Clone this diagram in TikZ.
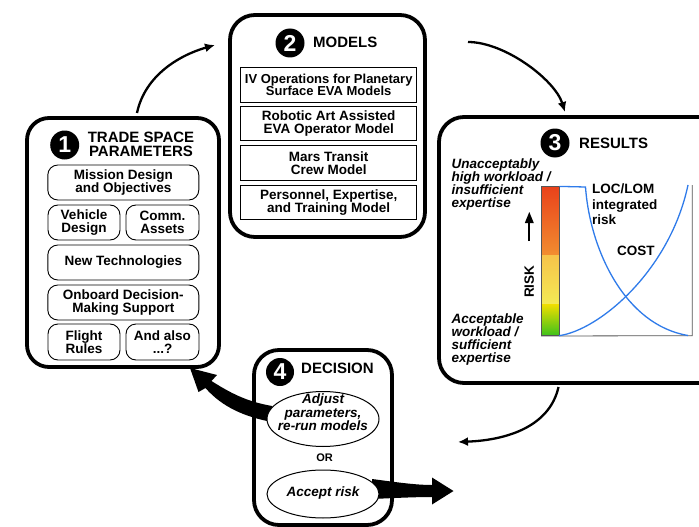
\documentclass[tikz,border=0pt]{standalone}
\usepackage{fontspec}
\setmainfont{Liberation Sans}
\usetikzlibrary{arrows.meta,shapes.geometric}
\definecolor{curveblue}{HTML}{2F7BEA}
\definecolor{axisgray}{HTML}{555555}
\begin{document}
\begin{tikzpicture}[x=1pt,y=-1pt,
  panel/.style={draw, line width=3.8pt, rounded corners=22pt, fill=white, inner sep=0},
  badge/.style={circle, fill=black, text=white, minimum size=29pt, inner sep=0,
    font=\fontsize{23}{23}\selectfont\bfseries},
  head/.style={inner sep=0, font=\fontsize{15}{14.6}\selectfont\bfseries, align=center},
  item/.style={draw, line width=0.9pt, rounded corners=10pt, inner sep=0,
    minimum height=35pt, align=center, font=\fontsize{13.5}{12.8}\selectfont\bfseries},
  modelbox/.style={draw, line width=1.2pt, inner sep=0, minimum width=176pt,
    minimum height=34.5pt, align=center, font=\fontsize{13.5}{13.5}\selectfont\bfseries},
  note/.style={inner sep=0, align=left, font=\fontsize{13.5}{13}\selectfont\bfseries\itshape},
  plain/.style={inner sep=0, align=left, font=\fontsize{13.5}{15.5}\selectfont\bfseries},
  choice/.style={draw, ellipse, line width=1pt, fill=white, inner sep=0},
  choicetext/.style={inner sep=0, align=center, font=\fontsize{13.5}{13.5}\selectfont\bfseries\itshape},
  flow/.style={line width=2.3pt, -{Latex[length=10pt,width=9pt]}},
  axisline/.style={line width=2pt},
  bigarrow/.style={fill=black, draw=none}
]
\useasboundingbox (0,0) rectangle (699,527);
\clip (0,0) rectangle (699,527);

% ---------- 1: trade space parameters ----------
\node[panel, minimum width=192pt, minimum height=249pt] (p1) at (123,242.5) {};
\node[badge] (b1) at (64.7,145) {1};
\node[head, anchor=north] (h1) at (141,131.7) {TRADE SPACE\\PARAMETERS};
\node[item, minimum width=151pt] (mission) at (123.3,182.5) {Mission Design\\and Objectives};
\node[item, minimum width=72pt] (vehicle) at (84,222.5) {Vehicle\\Design};
\node[item, minimum width=73pt] (comm) at (162.5,222.5) {Comm.\\Assets};
\node[item, minimum width=151pt] (newtech) at (123.3,262.5) {New Technologies};
\node[item, minimum width=151pt] (onboard) at (123.3,302.5) {Onboard Decision-\\Making Support};
\node[item, minimum width=72pt, minimum height=36pt] (flight) at (84,342) {Flight\\Rules};
\node[item, minimum width=73pt, minimum height=36pt] (also) at (162.5,342) {And also\\...?};

% ---------- 2: models ----------
\node[panel, rounded corners=25pt, minimum width=195pt, minimum height=222pt] (p2) at (327.5,126) {};
\node[badge] (b2) at (290,43) {2};
\node[head, anchor=base west] (h2) at (313,48) {MODELS};
\node[modelbox, font=\fontsize{13}{12.7}\selectfont\bfseries] (m1) at (328.7,85) {IV Operations for Planetary\\Surface EVA Models};
\node[modelbox] (m2) at (328.7,123.5) {Robotic Art Assisted\\EVA Operator Model};
\node[modelbox] (m3) at (328.7,163) {Mars Transit\\Crew Model};
\node[modelbox] (m4) at (328.7,202.5) {Personnel, Expertise,\\and Training Model};

% ---------- 3: results ----------
\node[panel, rounded corners=25pt, minimum width=300pt, minimum height=266pt] (p3) at (589,250) {};
\node[badge] (b3) at (555,143) {3};
\node[head, anchor=base west] (h3) at (579,148) {RESULTS};
\node[note, anchor=north west] (high) at (451.5,158.5) {Unacceptably\\high workload /\\insufficient\\expertise};
\node[note, anchor=north west] (low) at (451.5,313.5) {Acceptable\\workload /\\sufficient\\expertise};

% risk colour bar
\shade[top color={rgb,255:red,233;green,66;blue,27}, bottom color={rgb,255:red,242;green,141;blue,48}]
  (541.3,186.7) rectangle (559,255);
\shade[top color={rgb,255:red,246;green,195;blue,74}, bottom color={rgb,255:red,244;green,234;blue,85}]
  (541.3,255) rectangle (559,304);
\shade[top color={rgb,255:red,241;green,222;blue,0}, bottom color={rgb,255:red,60;green,194;blue,27}]
  (541.3,304) rectangle (559,335.7);
\node[draw=axisgray, line width=0.6pt, inner sep=0, minimum width=17.7pt, minimum height=149pt] (bar) at (550.15,261.2) {};

% chart frame
\coordinate (origin) at (559,335.7);
\coordinate (corner) at (692.3,335.7);
\coordinate (topright) at (692.3,185);
\draw[axisgray, line width=0.8pt] (bar.south west) -- (corner) -- (topright);

% curves
\draw[curveblue, line width=1.3pt] (bar.north east) -- (585.5,187)
  .. controls (590,250) and (625,325) .. (688,335.5);
\draw[curveblue, line width=1.3pt] (origin)
  .. controls (600,330) and (670,270) .. (688,185);
\node[plain, anchor=north west] (loc) at (592,183.6) {LOC/LOM\\integrated\\risk};
\node[plain, anchor=base west] (costlbl) at (617,255) {COST};

% axis titles with upward arrows
\coordinate (riskfoot) at (529.3,241);
\coordinate (riskneck) at (529.3,222);
\draw[axisline] (riskfoot) -- (riskneck);
\fill (529.3,212) -- (533.8,223) -- (524.8,223) -- cycle;
\node[plain, rotate=90] (risk) at (529.3,281.7) {RISK};
\coordinate (costfoot) at (704,258);
\coordinate (costneck) at (704,232);
\draw[axisline] (costfoot) -- (costneck);
\fill (704,222) -- (708.5,233) -- (699.5,233) -- cycle;
\node[plain, rotate=90] (costaxis) at (704,283) {COST};

% ---------- 4: decision ----------
\node[panel, rounded corners=25pt, minimum width=138pt, minimum height=175pt] (p4) at (323,437.5) {};
\node[badge, minimum size=28pt] (b4) at (280,372) {4};
\node[head, anchor=base west] (h4) at (301,373) {DECISION};

% thick outcome arrows
\fill[bigarrow] (190,368) -- (217,375) -- (211.5,381)
  .. controls (235,396) and (250,402) .. (272,406) -- (272,422)
  .. controls (245,417) and (222,407) .. (205.5,388) -- (198.5,392) -- cycle;
\fill[bigarrow] (372,479) .. controls (395,482) and (415,485) .. (432,485)
  -- (432,477.5) -- (453.5,491) -- (432,504.5) -- (432,497)
  .. controls (415,497) and (395,498) .. (372,499) -- cycle;

\node[choice, minimum width=112pt, minimum height=55pt] (adjust) at (323,419) {};
\node[choicetext] (adjusttext) at (323,412.5) {Adjust\\parameters,\\re-run models};
\node[inner sep=0, anchor=base, font=\fontsize{11}{11}\selectfont\bfseries] (or) at (324.5,461) {OR};
\node[choice, minimum width=112pt, minimum height=48pt] (accept) at (323,494) {};
\node[choicetext, anchor=base] (accepttext) at (323,496) {Accept risk};

% ---------- cycle arrows ----------
\coordinate (a12s) at (137,113);
\coordinate (a12e) at (215,45);
\draw[flow] (a12s) .. controls (145,75) and (180,55) .. (a12e);
\coordinate (a23s) at (468,42);
\coordinate (a23e) at (565,112);
\draw[flow] (a23s) .. controls (505,42) and (555,80) .. (a23e);
\coordinate (a34s) at (558.5,387);
\coordinate (a34e) at (458,442);
\draw[flow] (a34s) .. controls (550,425) and (510,440) .. (a34e);
\end{tikzpicture}
\end{document}
